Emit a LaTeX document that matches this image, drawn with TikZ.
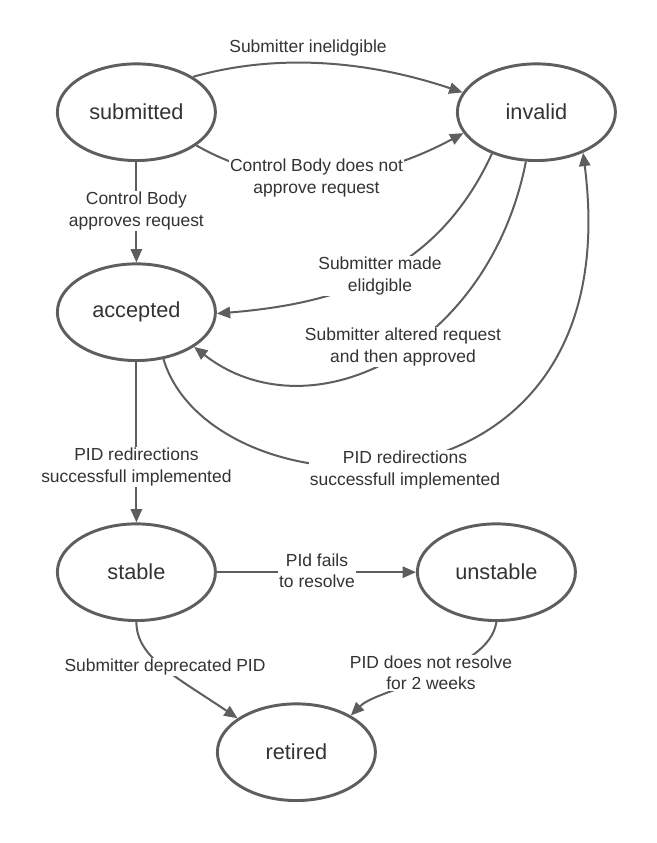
\documentclass[tikz,border=0pt]{standalone}
\usepackage{fontspec}
\setmainfont{Liberation Sans}
\usetikzlibrary{arrows.meta, shapes.geometric}
\definecolor{edgegray}{HTML}{5E5E5E}
\definecolor{txtgray}{HTML}{333333}

\begin{document}
\begin{tikzpicture}[x=0.75pt, y=-0.75pt,
        phase/.style={ellipse, draw=edgegray, line width=2.2pt, minimum width=118.5pt, minimum height=72.5pt, text=txtgray, font=\fontsize{16.3pt}{19pt}\selectfont},
        note/.style={fill=white, inner sep=1pt, align=center, text=txtgray, font=\fontsize{13.1pt}{16pt}\selectfont},
        arrow/.style={-{Triangle[length=10pt, width=8.5pt]}, draw=edgegray, line width=1.5pt}
    ]
        \useasboundingbox (0,0) rectangle (657,843);

        \node[phase] (submitted) at (136.4,112.2) {submitted};
        \node[phase] (invalid) at (536.4,112.2) {invalid};
        \node[phase] (accepted) at (136.4,312.2) {accepted};
        \node[phase] (stable) at (136.4,572.2) {stable};
        \node[phase] (unstable) at (496.4,572.2) {unstable};
        \node[phase] (retired) at (296.4,752.2) {retired};

        \draw[arrow] (submitted.32) .. controls (273.4,54) and (363.2,59.1) .. (invalid.165);
        \draw[arrow] (submitted.-29) .. controls (275.4,190.5) and (363.7,186.6) .. (invalid.196);
        \draw[arrow] (submitted) -- (accepted);
        \draw[arrow] (invalid.223) .. controls (434.4,278.6) and (329.6,304.1) .. (accepted.-1);
        \draw[arrow] (invalid.258) .. controls (488.4,351.3) and (309.2,436.8) .. (accepted.-31);
        \draw[arrow] (accepted.-60) .. controls (211.3,518.9) and (632.3,536.7) .. (invalid.-41);
        \draw[arrow] (accepted) -- (stable);
        \draw[arrow] (stable) -- (unstable);
        \draw[arrow] (stable.south) .. controls (136.4,657.5) and (175.5,676.3) .. (retired.150);
        \draw[arrow] (unstable.south) .. controls (488.9,672.5) and (378.9,687.3) .. (retired.34);

        \node[note] (inelig) at (308,48) {Submitter inelidgible};
        \node[note] (noapprove) at (316.5,178) {Control Body does not\\approve request};
        \node[note] (approves) at (136.4,211) {Control Body\\approves request};
        \node[note] (madeelig) at (380,276) {Submitter made\\elidgible};
        \node[note] (altered) at (403,347) {Submitter altered request\\and then approved};
        \node[note] (redirback) at (405,470) {PID redirections\\successfull implemented};
        \node[note] (redirok) at (136.4,467) {PID redirections\\successfull implemented};
        \node[note] (fails) at (317,571) {PId fails\\to resolve};
        \node[note] (deprec) at (165,667) {Submitter deprecated PID};
        \node[note] (noresolve) at (431,673) {PID does not resolve\\for 2 weeks};
    \end{tikzpicture}
\end{document}
